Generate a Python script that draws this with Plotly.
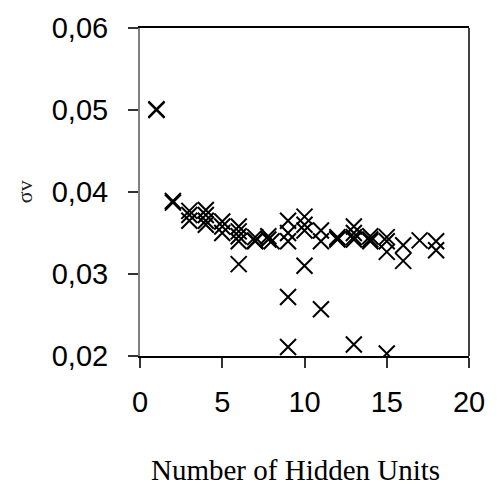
import plotly.graph_objects as go

# Number of hidden units (x) and sigma_v values (y)
hidden_units = [
    1, 1,
    2, 2,
    3, 3, 3,
    4, 4, 4, 4,
    5, 5, 5,
    6, 6, 6, 6, 6,
    7, 7, 7,
    7.8, 7.8, 8,
    9, 9, 9, 9, 9,
    10, 10, 10, 10,
    11, 11, 11,
    12, 12, 12,
    13, 13, 13, 13, 13,
    14, 14, 14,
    15, 15, 15, 15,
    16, 16,
    17,
    18, 18,
]
sigma_v = [
    0.0501, 0.0500,
    0.0389, 0.0387,
    0.0377, 0.0372, 0.0365,
    0.0378, 0.0372, 0.0365, 0.0360,
    0.0364, 0.0358, 0.0350,
    0.0358, 0.0352, 0.0346, 0.0340, 0.0312,
    0.0345, 0.0341, 0.0340,
    0.0346, 0.0342, 0.0340,
    0.0365, 0.0350, 0.0340, 0.0272, 0.0211,
    0.0370, 0.0360, 0.0353, 0.0310,
    0.0353, 0.0340, 0.0257,
    0.0345, 0.0342, 0.0343,
    0.0358, 0.0350, 0.0345, 0.0342, 0.0214,
    0.0346, 0.0342, 0.0340,
    0.0345, 0.0340, 0.0327, 0.0203,
    0.0335, 0.0316,
    0.0341,
    0.0340, 0.0329,
]

x_ticks = [0, 5, 10, 15, 20]
y_ticks = [0.02, 0.03, 0.04, 0.05, 0.06]
y_tick_labels = ["0,02", "0,03", "0,04", "0,05", "0,06"]

fig = go.Figure()
fig.add_trace(go.Scatter(
    x=hidden_units, y=sigma_v, mode="markers",
    marker=dict(symbol="x-thin-open", size=16, color="black",
                line=dict(color="black", width=2)),
    showlegend=False,
))

fig.update_layout(
    width=497, height=493,
    margin=dict(l=140, r=19, t=20, b=137),
    plot_bgcolor="white", paper_bgcolor="white",
    xaxis=dict(
        range=[0, 20], tickvals=x_ticks, ticktext=[str(v) for v in x_ticks],
        showgrid=False, zeroline=False,
        showline=True, linecolor="black", linewidth=1.5, mirror=True,
        ticks="outside", ticklen=10, tickcolor="#333", tickwidth=1.5,
        tickfont=dict(family="Liberation Sans, Arial", size=29, color="black"),
        ticklabelstandoff=9,
    ),
    yaxis=dict(
        range=[0.02, 0.06], tickvals=y_ticks, ticktext=y_tick_labels,
        showgrid=False, zeroline=False,
        showline=True, linecolor="#808080", linewidth=2,
        ticks="outside", ticklen=10, tickcolor="#333", tickwidth=1.5,
        tickfont=dict(family="Liberation Sans, Arial", size=29, color="black"),
        ticklabelstandoff=14,
    ),
    shapes=[dict(type="line", xref="paper", yref="paper", x0=1, x1=1, y0=0, y1=1,
                 line=dict(color="black", width=1.5))],
    annotations=[
        dict(text="Number of Hidden Units", xref="paper", yref="paper",
             x=0.473, y=-0.348, xanchor="center", yanchor="middle", showarrow=False,
             font=dict(family="Liberation Serif, Times New Roman", size=29, color="black")),
        dict(text="σv", xref="paper", yref="paper", textangle=-90,
             x=-0.352, y=0.5, xanchor="center", yanchor="middle", showarrow=False,
             font=dict(family="Liberation Serif, Times New Roman", size=22, color="#222")),
    ],
)

fig.write_html("out.html")
